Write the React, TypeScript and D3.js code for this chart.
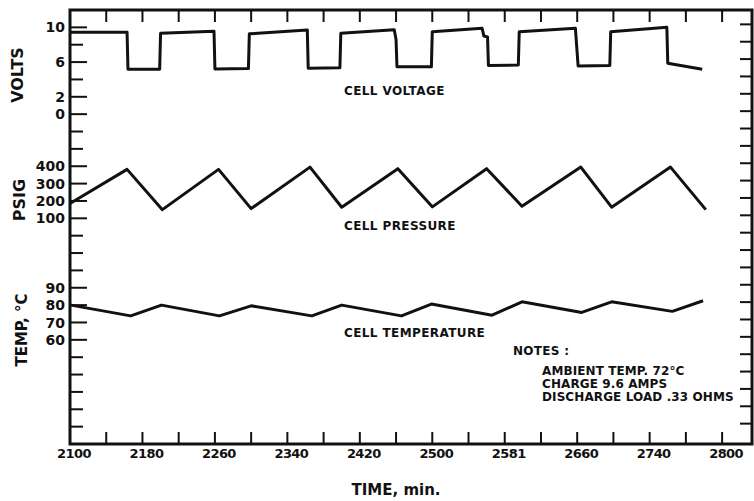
import React from "react";
import * as d3 from "d3";

// time in minutes (positions on the uniform 40-min grid)
const voltageTimes = [2100, 2163, 2164, 2199, 2200, 2259, 2260, 2297, 2298, 2362, 2363, 2398, 2399, 2458, 2460, 2461, 2499, 2500, 2555, 2557, 2561, 2562, 2595, 2596, 2658, 2661, 2696, 2697, 2759, 2760, 2798];
const voltageValues = [9.43, 9.45, 5.17, 5.17, 9.32, 9.55, 5.2, 5.25, 9.25, 9.7, 5.3, 5.35, 9.32, 9.72, 8.6, 5.47, 5.45, 9.5, 9.9, 9.0, 8.9, 5.6, 5.66, 9.5, 9.9, 5.55, 5.6, 9.5, 10.0, 5.86, 5.17];

const pressureTimes = [2100, 2163, 2202, 2264, 2300, 2365, 2400, 2462, 2500, 2560, 2599, 2664, 2698, 2763, 2802];
const pressureValues = [185, 382, 150, 382, 156, 395, 164, 386, 166, 386, 170, 395, 164, 395, 150];

const tempTimes = [2101, 2167, 2201, 2265, 2300, 2367, 2400, 2466, 2499, 2566, 2599, 2665, 2698, 2765, 2799];
const tempValues = [80, 73.8, 80, 73.8, 79.6, 73.8, 80, 73.8, 80.6, 74.2, 81.9, 75.8, 81.9, 76.4, 82.5];

const timeTicks = [2100, 2180, 2260, 2340, 2420, 2500, 2580, 2660, 2740, 2820];
const timeTickLabels = ["2100", "2180", "2260", "2340", "2420", "2500", "2581", "2660", "2740", "2800"];
const voltTicks = [10, 6, 2, 0];
const psiTicks = [400, 300, 200, 100];
const tempTicks = [90, 80, 70, 60];

const notes = ["AMBIENT TEMP. 72°C", "CHARGE 9.6 AMPS", "DISCHARGE LOAD .33 OHMS"];

const W = 754;
const H = 501;
const L = 70;
const R = 752;
const T = 10;
const B = 444;
const ink = "#111";
const font = "'DejaVu Sans', sans-serif";

export default function App() {
  const x = d3.scaleLinear().domain([2100, 2853]).range([L, R]);
  // the left axis is one column of 25 equal divisions shared by all three quantities
  const row = d3.scaleLinear().domain([-1, 24]).range([T, B]);
  const yV = d3.scaleLinear().domain([12, 0]).range([row(-1), row(5)]);
  const yP = d3.scaleLinear().domain([500, 0]).range([row(7), row(12)]);
  const yT = d3.scaleLinear().domain([90, 0]).range([row(15), row(24)]);

  const minorTimes = d3.range(2140, 2821, 40);
  const rows = d3.range(0, 24);

  const line = (xs: number[], ys: number[], y: d3.ScaleLinear<number, number>) =>
    d3
      .line<number>()
      .x((d) => x(xs[d]))
      .y((d) => y(ys[d]))(d3.range(xs.length)) || "";

  const leftLabels = [
    ...voltTicks.map((v) => ({ y: yV(v), t: String(v) })),
    ...psiTicks.map((v) => ({ y: yP(v), t: String(v) })),
    ...tempTicks.map((v) => ({ y: yT(v), t: String(v) })),
  ];
  const labelledY = new Set(leftLabels.map((d) => Math.round(d.y)));

  return (
    <svg
      width={W}
      height={H}
      style={{ position: "absolute", left: 0, top: 0, background: "#fff" }}
      fontFamily={font}
      fontWeight="bold"
      fill={ink}
    >
      {/* frame */}
      <rect x={L} y={T} width={R - L} height={B - T} fill="none" stroke={ink} strokeWidth={3} />

      {/* left ticks */}
      {rows.map((k) => (
        <line
          key={"l" + k}
          x1={L}
          x2={L + (labelledY.has(Math.round(row(k))) ? 17 : 13)}
          y1={row(k)}
          y2={row(k)}
          stroke={ink}
          strokeWidth={2}
        />
      ))}
      {/* right ticks */}
      {rows.map((k) => (
        <line key={"r" + k} x1={R} x2={R - 12} y1={row(k) - 3} y2={row(k) - 3} stroke={ink} strokeWidth={2} />
      ))}
      {/* top and bottom ticks */}
      {minorTimes.map((t) => (
        <g key={"t" + t}>
          <line x1={x(t)} x2={x(t)} y1={T} y2={T + 12} stroke={ink} strokeWidth={2} />
          <line x1={x(t)} x2={x(t)} y1={B} y2={B - 12} stroke={ink} strokeWidth={2} />
        </g>
      ))}

      {/* left tick labels */}
      {leftLabels.map((d, i) => (
        <text key={"ll" + i} x={65} y={d.y} dy="0.36em" textAnchor="end" fontSize={14}>
          {d.t}
        </text>
      ))}

      {/* bottom tick labels */}
      {timeTicks.map((t, i) => (
        <text key={"bl" + t} x={x(t) + 4} y={458} textAnchor="middle" fontSize={13} letterSpacing={-0.6}>
          {timeTickLabels[i]}
        </text>
      ))}

      {/* axis titles */}
      <text transform="translate(23,75) rotate(-90)" textAnchor="middle" fontSize={16}>
        VOLTS
      </text>
      <text transform="translate(25,200) rotate(-90)" textAnchor="middle" fontSize={16}>
        PSIG
      </text>
      <text transform="translate(27,330) rotate(-90)" textAnchor="middle" fontSize={15}>
        TEMP, °C
      </text>
      <text x={396} y={495} textAnchor="middle" fontSize={15}>
        TIME, min.
      </text>

      {/* series */}
      <path d={line(voltageTimes, voltageValues, yV)} fill="none" stroke={ink} strokeWidth={3} strokeLinejoin="round" />
      <path d={line(pressureTimes, pressureValues, yP)} fill="none" stroke={ink} strokeWidth={3} strokeLinejoin="round" />
      <path d={line(tempTimes, tempValues, yT)} fill="none" stroke={ink} strokeWidth={3} strokeLinejoin="round" />

      {/* curve captions */}
      <text x={344} y={95} fontSize={12} letterSpacing={0.4}>CELL VOLTAGE</text>
      <text x={344} y={230} fontSize={12} letterSpacing={0.4}>CELL PRESSURE</text>
      <text x={344} y={337} fontSize={12} letterSpacing={0.4}>CELL TEMPERATURE</text>

      {/* notes */}
      <text x={513} y={355} fontSize={12} letterSpacing={0.3}>NOTES :</text>
      {notes.map((n, i) => (
        <text key={n} x={542} y={375 + i * 13} fontSize={12} letterSpacing={0.1}>
          {n}
        </text>
      ))}
    </svg>
  );
}
